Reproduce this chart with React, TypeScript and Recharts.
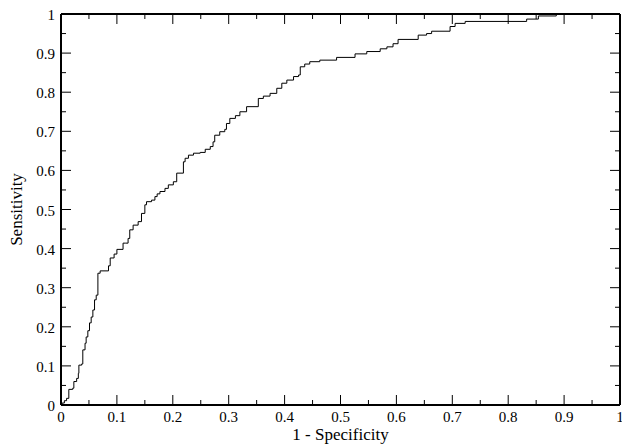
import React from "react";
import { Line, LineChart, ReferenceLine, XAxis, YAxis } from "recharts";

// points (1 - specificity, sensitivity)
const falsePositiveRate = [
  0, 0.002, 0.006, 0.01, 0.014, 0.021, 0.023, 0.028, 0.031, 0.032, 0.037, 0.039, 0.043, 0.045,
  0.048, 0.051, 0.054, 0.057, 0.06, 0.063, 0.066, 0.07, 0.085, 0.088, 0.095, 0.1, 0.111, 0.115,
  0.12, 0.123, 0.129, 0.138, 0.144, 0.15, 0.153, 0.162, 0.168, 0.172, 0.177, 0.186, 0.192, 0.201,
  0.207, 0.219, 0.222, 0.228, 0.237, 0.249, 0.258, 0.267, 0.272, 0.275, 0.284, 0.293, 0.296, 0.302,
  0.312, 0.32, 0.332, 0.353, 0.362, 0.374, 0.386, 0.395, 0.404, 0.416, 0.425, 0.428, 0.436, 0.445,
  0.463, 0.493, 0.526, 0.547, 0.571, 0.583, 0.594, 0.603, 0.639, 0.654, 0.663, 0.696, 0.705, 0.723,
  0.833, 0.854, 0.886, 1,
];
const sensitivity = [
  0, 0.005, 0.011, 0.017, 0.04, 0.043, 0.06, 0.068, 0.081, 0.102, 0.105, 0.141, 0.158, 0.174,
  0.19, 0.21, 0.225, 0.243, 0.269, 0.281, 0.337, 0.343, 0.356, 0.376, 0.386, 0.398, 0.414, 0.414,
  0.426, 0.448, 0.46, 0.469, 0.49, 0.512, 0.52, 0.524, 0.533, 0.54, 0.546, 0.554, 0.563, 0.571,
  0.593, 0.622, 0.631, 0.639, 0.644, 0.646, 0.654, 0.661, 0.673, 0.69, 0.699, 0.705, 0.72, 0.733,
  0.74, 0.75, 0.763, 0.784, 0.79, 0.797, 0.81, 0.823, 0.831, 0.84, 0.844, 0.865, 0.872, 0.878,
  0.882, 0.889, 0.898, 0.904, 0.911, 0.916, 0.924, 0.935, 0.946, 0.95, 0.956, 0.968, 0.976, 0.981,
  0.987, 0.995, 1, 1,
];

const axisTicks = [
  0, 0.05, 0.1, 0.15, 0.2, 0.25, 0.3, 0.35, 0.4, 0.45, 0.5, 0.55, 0.6, 0.65, 0.7, 0.75, 0.8, 0.85,
  0.9, 0.95, 1,
];

const rocData = falsePositiveRate.map((fpr, i) => ({ fpr, tpr: sensitivity[i] }));

const WIDTH = 622;
const HEIGHT = 446;
const MARGIN = { top: 14, right: 2, bottom: 0, left: 0 };
const X_AXIS_H = 41;
const Y_AXIS_W = 61;
const PLOT_W = WIDTH - Y_AXIS_W - MARGIN.right;
const PLOT_H = HEIGHT - X_AXIS_H - MARGIN.top;

const FONT = "'Liberation Serif', 'Times New Roman', serif";
const isMajor = (v: number) => Math.round(v * 20) % 2 === 0;
const tickLen = (v: number) => (isMajor(v) ? 10 : 5);

// bottom tick draws its mirror on the top edge of the frame too
function BottomTick({ x, y, payload }: any) {
  const v = payload.value;
  const top = y - PLOT_H;
  return (
    <g>
      <line x1={x} x2={x} y1={y} y2={y - tickLen(v)} stroke="#000" strokeWidth={1} />
      <line x1={x} x2={x} y1={top} y2={top + tickLen(v)} stroke="#000" strokeWidth={1} />
      {isMajor(v) && (
        <text x={x} y={y + 17} textAnchor="middle" fontFamily={FONT} fontSize={15} fill="#000">
          {String(v)}
        </text>
      )}
    </g>
  );
}

function LeftTick({ x, y, payload }: any) {
  const v = payload.value;
  const right = x + PLOT_W;
  return (
    <g>
      <line x1={x} x2={x + tickLen(v)} y1={y} y2={y} stroke="#000" strokeWidth={1} />
      <line x1={right} x2={right - tickLen(v)} y1={y} y2={y} stroke="#000" strokeWidth={1} />
      {isMajor(v) && (
        <text x={x - 6} y={y + 6} textAnchor="end" fontFamily={FONT} fontSize={15} fill="#000">
          {String(v)}
        </text>
      )}
    </g>
  );
}

const frame = { stroke: "#000", strokeWidth: 2 };

export default function App() {
  return (
    <div style={{ position: "absolute", left: 0, top: 0, background: "#fff" }}>
      <LineChart width={WIDTH} height={HEIGHT} data={rocData} margin={MARGIN}>
        <XAxis
          dataKey="fpr"
          type="number"
          domain={[0, 1]}
          ticks={axisTicks}
          interval={0}
          height={X_AXIS_H}
          tickSize={0}
          tickMargin={0}
          tickLine={false}
          axisLine={frame}
          tick={<BottomTick />}
          label={{
            content: ({ viewBox }: any) => (
              <text
                x={viewBox.x + viewBox.width / 2}
                y={viewBox.y + 35}
                textAnchor="middle"
                fontFamily={FONT}
                fontSize={17}
                fill="#000"
              >
                1 - Specificity
              </text>
            ),
          }}
        />
        <YAxis
          type="number"
          domain={[0, 1]}
          ticks={axisTicks}
          interval={0}
          width={Y_AXIS_W}
          tickSize={0}
          tickMargin={0}
          tickLine={false}
          axisLine={frame}
          tick={<LeftTick />}
          label={{
            content: ({ viewBox }: any) => {
              const cx = viewBox.x + 22;
              const cy = viewBox.y + viewBox.height / 2;
              return (
                <text
                  x={cx}
                  y={cy}
                  transform={`rotate(-90 ${cx} ${cy})`}
                  textAnchor="middle"
                  fontFamily={FONT}
                  fontSize={17}
                  fill="#000"
                >
                  Sensitivity
                </text>
              );
            },
          }}
        />
        <ReferenceLine y={1} stroke="#000" strokeWidth={2} />
        <ReferenceLine x={1} stroke="#000" strokeWidth={2} />
        <Line
          type="stepAfter"
          dataKey="tpr"
          stroke="#000"
          strokeWidth={1}
          dot={false}
          activeDot={false}
          isAnimationActive={false}
        />
      </LineChart>
    </div>
  );
}
